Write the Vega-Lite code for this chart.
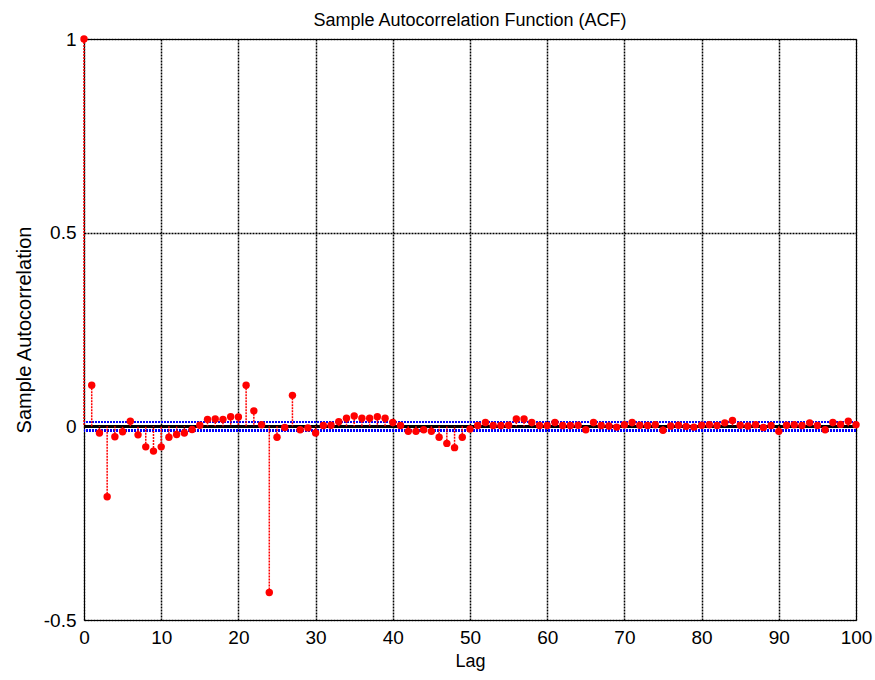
{
  "$schema": "https://vega.github.io/schema/vega-lite/v6.json",
  "width": 772,
  "height": 581,
  "autosize": "none",
  "padding": {"left": 84, "top": 39, "right": 19, "bottom": 60},
  "background": "white",
  "title": {"text": "Sample Autocorrelation Function (ACF)", "font": "Liberation Sans", "fontSize": 18, "fontWeight": "normal", "color": "black", "offset": 0},
  "config": {
    "view": {"stroke": "black", "strokeWidth": 1},
    "axis": {"labelFont": "Liberation Sans", "labelFontSize": 19, "labelColor": "black", "titleFont": "Liberation Sans", "titleFontSize": 18, "titleFontWeight": "normal", "titleColor": "black", "domain": false, "ticks": false, "grid": true, "gridColor": "black", "gridDash": [2, 1], "gridWidth": 1.5, "gridOpacity": 1}
  },
  "data": {"values": [
    {"lag": 0, "acf": 1}, {"lag": 1, "acf": 0.106}, {"lag": 2, "acf": -0.017}, {"lag": 3, "acf": -0.182}, {"lag": 4, "acf": -0.027},
    {"lag": 5, "acf": -0.014}, {"lag": 6, "acf": 0.013}, {"lag": 7, "acf": -0.022}, {"lag": 8, "acf": -0.053}, {"lag": 9, "acf": -0.064},
    {"lag": 10, "acf": -0.053}, {"lag": 11, "acf": -0.028}, {"lag": 12, "acf": -0.021}, {"lag": 13, "acf": -0.017}, {"lag": 14, "acf": -0.008},
    {"lag": 15, "acf": 0.003}, {"lag": 16, "acf": 0.018}, {"lag": 17, "acf": 0.019}, {"lag": 18, "acf": 0.018}, {"lag": 19, "acf": 0.025},
    {"lag": 20, "acf": 0.024}, {"lag": 21, "acf": 0.106}, {"lag": 22, "acf": 0.040}, {"lag": 23, "acf": 0.004}, {"lag": 24, "acf": -0.429},
    {"lag": 25, "acf": -0.028}, {"lag": 26, "acf": -0.003}, {"lag": 27, "acf": 0.080}, {"lag": 28, "acf": -0.009}, {"lag": 29, "acf": -0.004},
    {"lag": 30, "acf": -0.017}, {"lag": 31, "acf": 0.002}, {"lag": 32, "acf": 0.003}, {"lag": 33, "acf": 0.012}, {"lag": 34, "acf": 0.021},
    {"lag": 35, "acf": 0.027}, {"lag": 36, "acf": 0.021}, {"lag": 37, "acf": 0.021}, {"lag": 38, "acf": 0.025}, {"lag": 39, "acf": 0.021},
    {"lag": 40, "acf": 0.010}, {"lag": 41, "acf": 0.002}, {"lag": 42, "acf": -0.013}, {"lag": 43, "acf": -0.013}, {"lag": 44, "acf": -0.009},
    {"lag": 45, "acf": -0.013}, {"lag": 46, "acf": -0.028}, {"lag": 47, "acf": -0.044}, {"lag": 48, "acf": -0.055}, {"lag": 49, "acf": -0.028},
    {"lag": 50, "acf": -0.007}, {"lag": 51, "acf": 0.002}, {"lag": 52, "acf": 0.010}, {"lag": 53, "acf": 0.002}, {"lag": 54, "acf": 0.002},
    {"lag": 55, "acf": 0.003}, {"lag": 56, "acf": 0.019}, {"lag": 57, "acf": 0.019}, {"lag": 58, "acf": 0.010}, {"lag": 59, "acf": 0.002},
    {"lag": 60, "acf": 0.002}, {"lag": 61, "acf": 0.010}, {"lag": 62, "acf": 0.002}, {"lag": 63, "acf": 0.002}, {"lag": 64, "acf": 0.003},
    {"lag": 65, "acf": -0.009}, {"lag": 66, "acf": 0.010}, {"lag": 67, "acf": 0.002}, {"lag": 68, "acf": 0.001}, {"lag": 69, "acf": -0.002},
    {"lag": 70, "acf": 0.004}, {"lag": 71, "acf": 0.010}, {"lag": 72, "acf": 0.003}, {"lag": 73, "acf": 0.002}, {"lag": 74, "acf": 0.004},
    {"lag": 75, "acf": -0.010}, {"lag": 76, "acf": 0.001}, {"lag": 77, "acf": 0.003}, {"lag": 78, "acf": 0.000}, {"lag": 79, "acf": -0.002},
    {"lag": 80, "acf": 0.003}, {"lag": 81, "acf": 0.004}, {"lag": 82, "acf": 0.002}, {"lag": 83, "acf": 0.009}, {"lag": 84, "acf": 0.015},
    {"lag": 85, "acf": 0.003}, {"lag": 86, "acf": 0.001}, {"lag": 87, "acf": 0.004}, {"lag": 88, "acf": -0.003}, {"lag": 89, "acf": 0.002},
    {"lag": 90, "acf": -0.013}, {"lag": 91, "acf": 0.003}, {"lag": 92, "acf": 0.004}, {"lag": 93, "acf": 0.002}, {"lag": 94, "acf": 0.009},
    {"lag": 95, "acf": 0.002}, {"lag": 96, "acf": -0.009}, {"lag": 97, "acf": 0.010}, {"lag": 98, "acf": 0.005}, {"lag": 99, "acf": 0.013},
    {"lag": 100, "acf": 0.004}
  ]},
  "encoding": {
    "x": {"field": "lag", "type": "quantitative", "scale": {"domain": [0, 100], "nice": false}, "axis": {"title": "Lag", "values": [0, 10, 20, 30, 40, 50, 60, 70, 80, 90, 100], "labelPadding": 8, "titlePadding": 5, "labelFlush": false}},
    "y": {"field": "acf", "type": "quantitative", "scale": {"domain": [-0.5, 1], "nice": false, "zero": false}, "axis": {"title": "Sample Autocorrelation", "titleFontSize": 20, "values": [-0.5, 0, 0.5, 1], "labelExpr": "'' + datum.value", "labelPadding": 8, "titlePadding": 9, "labelFlush": false}}
  },
  "layer": [
    {"mark": {"type": "rule", "color": "black", "strokeWidth": 2.5}, "encoding": {"x": null, "y": {"datum": 0, "type": "quantitative"}}},
    {"mark": {"type": "rule", "color": "#0000ff", "strokeWidth": 1.5, "strokeDash": [2, 1]}, "encoding": {"x": null, "y": {"datum": 0.011, "type": "quantitative"}}},
    {"mark": {"type": "rule", "color": "#0000ff", "strokeWidth": 1.5, "strokeDash": [2, 1]}, "encoding": {"x": null, "y": {"datum": -0.011, "type": "quantitative"}}},
    {"mark": {"type": "rule", "color": "#ff0000", "strokeWidth": 1.5, "strokeDash": [2, 1]}, "encoding": {"y2": {"datum": 0}}},
    {"mark": {"type": "point", "filled": true, "color": "#ff0000", "size": 55, "opacity": 1}}
  ]
}
